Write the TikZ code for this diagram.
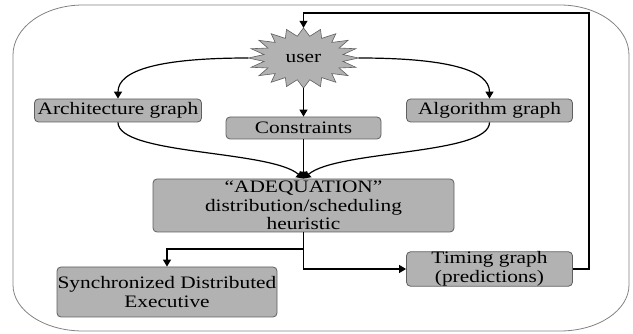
\documentclass[tikz,border=0pt]{standalone}
\usepackage{fontspec}
\setmainfont{Liberation Serif}[FakeStretch=1.22]
\usetikzlibrary{arrows.meta,calc}
\definecolor{boxfill}{RGB}{178,178,178}
\definecolor{boxline}{RGB}{95,95,95}
\definecolor{framecol}{RGB}{130,130,130}
\tikzset{
  box/.style={draw=boxline, fill=boxfill, line width=0.8pt, rounded corners=4pt,
    inner sep=0pt, align=center, font=\fontsize{17.5}{18.5}\selectfont},
  arr/.style={line width=1.2pt, -{Triangle[length=7pt,width=8pt]}},
}
\begin{document}
\begin{tikzpicture}[x=1pt,y=-1pt]
\useasboundingbox (0,0) rectangle (633,334);

% outer frame with elliptical corners (y axis points down)
\draw[framecol, line width=0.8pt]
  (83,5) -- (560,5) arc[start angle=270,end angle=360,x radius=69,y radius=50]
  -- (629,285) arc[start angle=0,end angle=90,x radius=69,y radius=46]
  -- (83,331) arc[start angle=90,end angle=180,x radius=70,y radius=46]
  -- (13,55) arc[start angle=180,end angle=270,x radius=70,y radius=50] -- cycle;

% star behind the user label
\filldraw[fill=boxfill, draw=boxline, line width=0.6pt]
  plot[samples at={0,...,39}]
  ({303.5+ifthenelse(mod(\x,2)==0,55,40)*cos(90+\x*9)},
   {58-ifthenelse(mod(\x,2)==0,30,22)*sin(90+\x*9)}) -- cycle;
\node[minimum width=110pt, minimum height=60pt, inner sep=0pt,
      font=\fontsize{17.5}{18.5}\selectfont] (user) at (303.5,58) {user};

% boxes
\node[box, minimum width=167pt, minimum height=23pt] (arch) at (118,110.5) {Architecture graph};
\node[box, minimum width=155pt, minimum height=22pt] (cons) at (303.5,128) {Constraints};
\node[box, minimum width=166pt, minimum height=23pt] (alg) at (489.5,110.5) {Algorithm graph};
\node[box, minimum width=301pt, minimum height=53pt] (adeq) at (303.5,205.5)
  {“ADEQUATION”\\distribution/scheduling\\heuristic};
\node[box, minimum width=220pt, minimum height=50pt] (sync) at (167,292)
  {Synchronized Distributed\\Executive};
\node[box, minimum width=166pt, minimum height=34pt] (timing) at (489.5,269)
  {Timing graph\\(predictions)};

% connectors from the user
\draw[arr] (user.west) .. controls (160,58) and (118,70) .. (arch.north);
\draw[arr] (user.east) .. controls (447,58) and (489.5,70) .. (alg.north);
\draw[arr] (user.south) -- (cons.north);

% inputs of the heuristic
\draw[arr] (cons.south) -- (adeq.north);
\draw[arr] (arch.south) .. controls (118,155) and (270,150) .. (adeq.north);
\draw[arr] (alg.south) .. controls (489.5,155) and (337,150) .. (adeq.north);

% outputs of the heuristic
\coordinate (split) at (303.5,249);
\draw[arr] (adeq.south) -- (split) -| (sync.north);
\draw[arr] (split) |- (timing.west);

% feedback of timing predictions to the user
\coordinate (fbtop) at (589,13);
\draw[arr] (timing.east) -| (fbtop) -- (fbtop -| user.north) -- (user.north);
\end{tikzpicture}
\end{document}
